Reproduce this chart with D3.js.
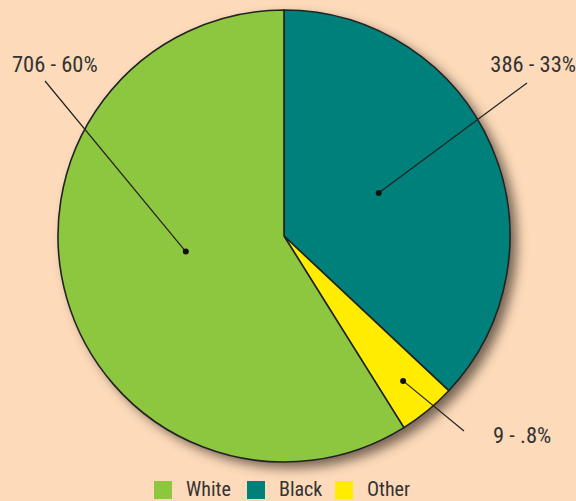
<!DOCTYPE html>
<html><head><meta charset="utf-8">
<script src="https://cdn.jsdelivr.net/npm/d3@7"></script>
<style>
html,body{margin:0;padding:0;background:#FDDBBA;}
svg{display:block;}
text{font-family:"Liberation Sans Narrow","Roboto Condensed","Liberation Sans",sans-serif;fill:#333;font-weight:400;}
</style></head>
<body>
<svg id="c" width="576" height="501"></svg>
<script>
// Data
const categories = ["White", "Black", "Other"];
const counts = [706, 386, 9];
const percentLabels = ["60%", "33%", ".8%"];
// slice shares as drawn in the picture (percent of the circle)
const sliceShares = [58.9, 37.0, 4.1];
const colors = ["#8DC63F", "#00807A", "#FFEC00"];

const W = 576, H = 501;
const cx = 284, cy = 236, R = 226;
const svg = d3.select("#c");

const defs = svg.append("defs");
const f = defs.append("filter").attr("id","sh").attr("x","-20%").attr("y","-20%").attr("width","140%").attr("height","140%");
f.append("feGaussianBlur").attr("stdDeviation", 6);

const g = svg.append("g").attr("transform", `translate(${cx},${cy})`);
g.append("circle").attr("cx", 7).attr("cy", 6).attr("r", R).attr("fill", "#4a3a30").attr("opacity", 0.75).attr("filter","url(#sh)");

// order: Black (clockwise from top), Other, White
const order = [1, 2, 0];
const pie = d3.pie().sort(null).value(i => sliceShares[i]);
const arcs = pie(order);
const arc = d3.arc().innerRadius(0).outerRadius(R);

g.selectAll("path.s").data(arcs).join("path")
  .attr("class","s")
  .attr("d", arc)
  .attr("fill", d => colors[d.data])
  .attr("stroke", "#222")
  .attr("stroke-width", 1.6)
  .attr("stroke-linejoin","round");

// label layout (dot radius fraction, angle offset in degrees, leader end, text position)
const layout = {
  0: {rf: 0.44, da: 7, lx: 45, ly: 81, tx: 12, ty: 72, anchor: "start"},
  1: {rf: 0.46, da: -1, lx: 527, ly: 83, tx: 576, ty: 72, anchor: "end"},
  2: {rf: 0.83, da: 0, lx: 464, ly: 431, tx: 493, ty: 443, anchor: "start"}
};

arcs.forEach(d => {
  const i = d.data, L = layout[i];
  const a = (d.startAngle + d.endAngle) / 2 + L.da * Math.PI / 180;
  const r = R * L.rf;
  const px = cx + r * Math.sin(a), py = cy - r * Math.cos(a);
  svg.append("line").attr("x1", px).attr("y1", py).attr("x2", L.lx).attr("y2", L.ly)
    .attr("stroke", "#222").attr("stroke-width", 1.2);
  svg.append("circle").attr("cx", px).attr("cy", py).attr("r", 3).attr("fill", "#111");
  svg.append("text").attr("x", L.tx).attr("y", L.ty).attr("text-anchor", L.anchor)
    .attr("font-size", 22.5).text(`${counts[i]} - ${percentLabels[i]}`);
});

// legend
const leg = svg.append("g");
const legX = [154, 247, 335];
categories.forEach((c, i) => {
  leg.append("rect").attr("x", legX[i]).attr("y", 481).attr("width", 18).attr("height", 18).attr("fill", colors[i]);
  leg.append("text").attr("x", legX[i] + 32).attr("y", 496).attr("font-size", 20).text(c);
});
</script>
</body></html>
